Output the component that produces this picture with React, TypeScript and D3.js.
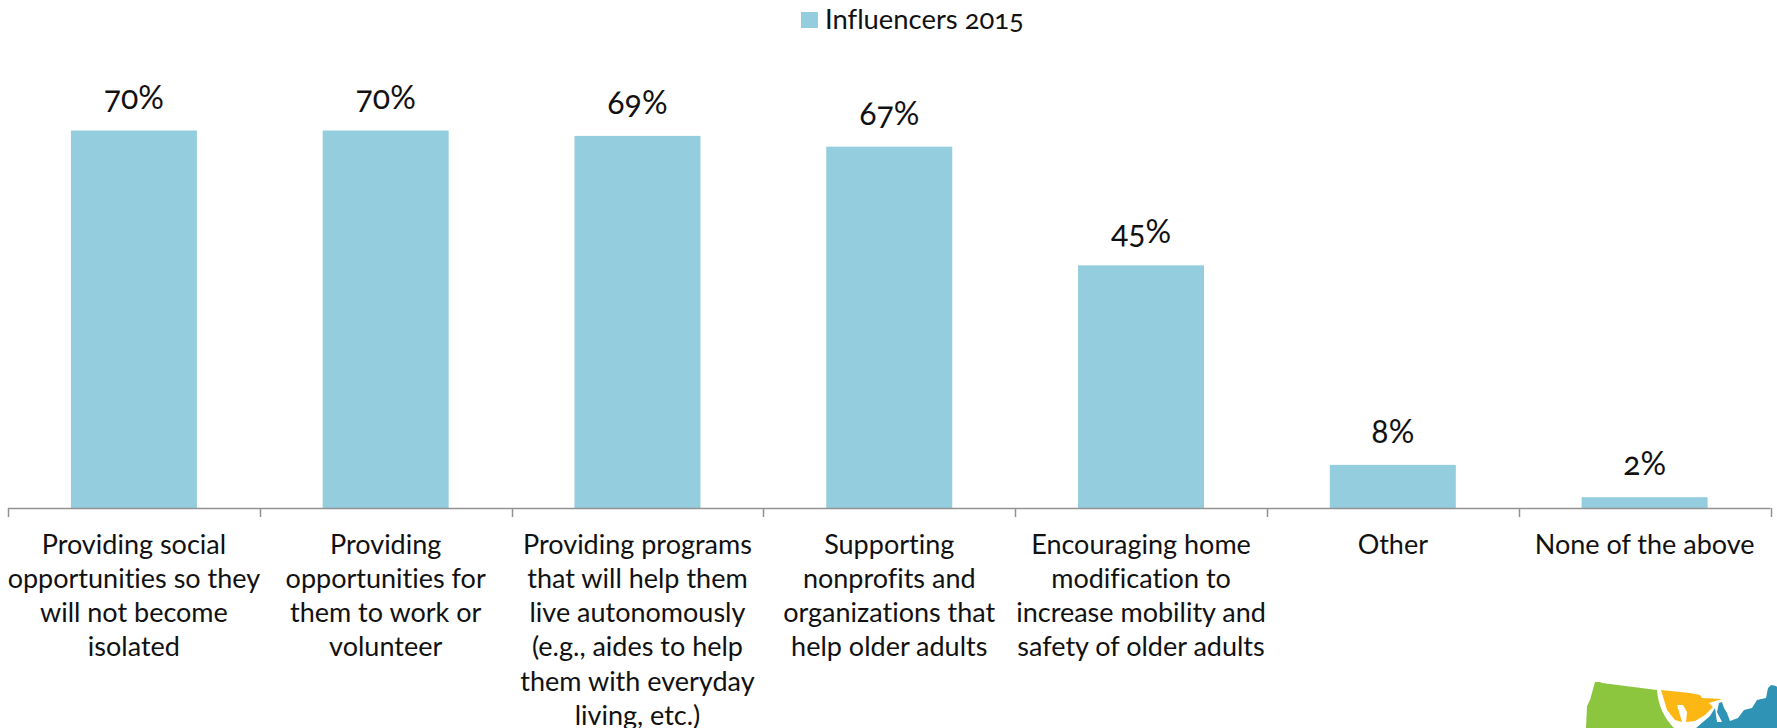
import React from "react";
import * as d3 from "d3";

const categoryLines: string[][] = [
  ["Providing social", "opportunities so they", "will not become", "isolated"],
  ["Providing", "opportunities for", "them to work or", "volunteer"],
  ["Providing programs", "that will help them", "live autonomously", "(e.g., aides to help", "them with everyday", "living, etc.)"],
  ["Supporting", "nonprofits and", "organizations that", "help older adults"],
  ["Encouraging home", "modification to", "increase mobility and", "safety of older adults"],
  ["Other"],
  ["None of the above"],
];
const values: number[] = [70, 70, 69, 67, 45, 8, 2];
const seriesName = "Influencers 2015";
const categoryIds = d3.range(values.length);

const W = 1777, H = 728;
const FONT = "Lato, 'Open Sans', sans-serif";
const BLUE = "#94CDDE";
const AXIS = "#929292";
const TEXT = "#111111";

const logoGreen = "M1595,682 L1600,682 L1602,683 L1657,690 C1658,705 1664,718 1674,728 L1586,728 L1587,706 L1590,700 Z";
const logoOrange = "M1661,690 L1690,693 L1700,695 L1702,698 L1722,699 L1709,703 L1713,707 L1705,715 L1695,721 L1686,722 L1687,712 L1683,705 L1677,705 L1682,722 L1675,720 L1667,710 Z";
const logoBlue = "M1696,728 L1710,716 L1715,708 L1717,722 L1722,722 L1717,712 L1719,703 L1722,702 L1724,708 L1727,713 L1730,721 L1738,718 L1744,710 L1752,708 L1757,700 L1766,698 L1768,688 L1771,685 L1776,686 L1777,687 L1777,728 Z";

export default function App() {
  const x = d3.scaleBand<number>().domain(categoryIds).range([8, 1770.5]).paddingInner(0).paddingOuter(0);
  const y = d3.scaleLinear().domain([0, 70]).range([508, 130.5]);
  const bw = 126;
  return (
    <svg width={W} height={H} viewBox={`0 0 ${W} ${H}`}
      style={{ position: "absolute", left: 0, top: 0, display: "block", background: "#fff", fontFamily: FONT, fontVariantLigatures: "none" }}>
      {/* legend */}
      <rect x={801} y={12} width={17} height={16} fill={BLUE} />
      <text x={825} y={29} fontSize={27.4} fill={TEXT} style={{ fontFeatureSettings: "'onum', 'liga' 0" }}>{seriesName}</text>

      {/* bars */}
      {values.map((v, i) => {
        const cx = x(i)! + x.bandwidth() / 2;
        return (
          <g key={i}>
            <rect x={cx - bw / 2} y={y(v)} width={bw} height={y(0) - y(v)} fill={BLUE} />
            <text x={cx} y={y(v) - 22} textAnchor="middle" fontSize={32} fill={TEXT}
              style={{ fontFeatureSettings: "'onum'" }}>{v}%</text>
          </g>
        );
      })}

      {/* axis */}
      <line x1={8} x2={x.range()[1]} y1={508.5} y2={508.5} stroke={AXIS} strokeWidth={1.5} />
      {[...categoryIds, values.length].map((i) => {
        const tx = Math.round(x(0)! + i * x.bandwidth()) + 0.5;
        return <line key={i} x1={tx} x2={tx} y1={508} y2={517} stroke={AXIS} strokeWidth={1.5} />;
      })}

      {/* category labels */}
      {categoryLines.map((lines, i) => (
        <text key={i} textAnchor="middle" fontSize={27} fill={TEXT}>
          {lines.map((l, j) => (
            <tspan key={j} x={x(i)! + x.bandwidth() / 2} y={553.5 + j * 34.3}>{l}</tspan>
          ))}
        </text>
      ))}

      {/* logo */}
      <path d={logoGreen} fill="#8CC63F" />
      <path d={logoOrange} fill="#FDB714" />
      <path d={logoBlue} fill="#2E93B5" />
    </svg>
  );
}
